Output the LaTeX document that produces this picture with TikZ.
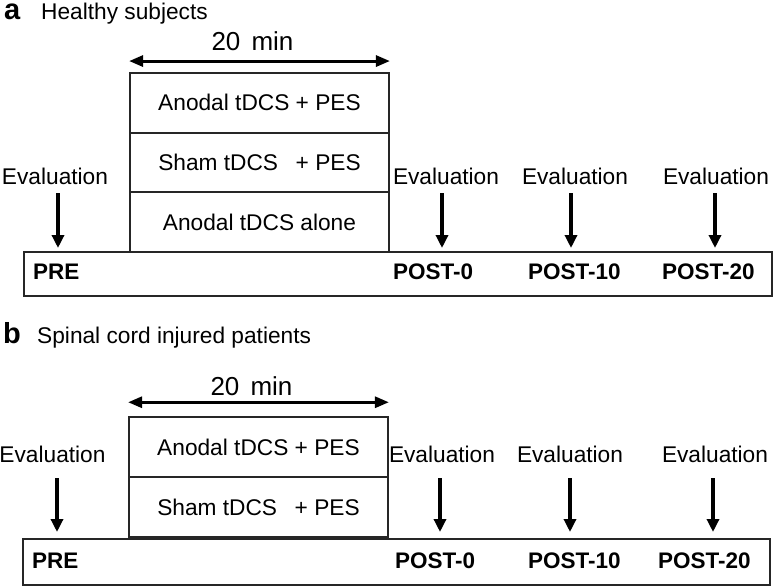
\documentclass[tikz,border=0pt]{standalone}
\usepackage{fontspec}
\setmainfont{Liberation Sans}
\usetikzlibrary{arrows.meta}
\definecolor{linegray}{HTML}{262626}
\begin{document}
\begin{tikzpicture}[x=1pt,y=-1pt,
 txt/.style={inner sep=0pt, font=\fontsize{22.7}{27}\selectfont},
 durtxt/.style={inner sep=0pt, font=\fontsize{26}{30}\selectfont},
 boldtxt/.style={inner sep=0pt, font=\fontsize{22.5}{27}\selectfont\bfseries},
 panel/.style={inner sep=0pt, font=\fontsize{29}{34}\selectfont\bfseries},
 stim/.style={draw=linegray, line width=1.8pt, minimum width=259pt, minimum height=59.7pt, inner sep=0pt, font=\fontsize{22.7}{27}\selectfont},
 timeline/.style={draw=linegray, line width=1.8pt, inner sep=0pt},
 evalarrow/.style={line width=3.5pt, -{Triangle[width=12pt,length=13pt]}},
 durarrow/.style={line width=3pt, {Triangle[width=11pt,length=14pt]}-{Triangle[width=11pt,length=14pt]}}
]
\useasboundingbox (0,0) rectangle (774,586);

% ---------------- panel a ----------------
\node[panel, anchor=base west] (pa) at (4,20) {a};
\node[txt, anchor=base west] (ta) at (41,20) {Healthy subjects};

\node[stim] (a1) at (259.5,102.8) {Anodal tDCS + PES};
\node[stim] (a2) at (259.5,162.5) {Sham tDCS\hspace{0.5em} + PES};
\node[stim] (a3) at (259.5,222.2) {Anodal tDCS alone};
\draw[durarrow] ([yshift=11pt]a1.north west) -- ([yshift=11pt]a1.north east);
\node[durtxt, anchor=base] (da) at (252.5,51) {20\hspace{0.15em} min};

\node[timeline, minimum width=748pt, minimum height=44pt] (tla) at (398,274) {};
\node[boldtxt, anchor=base west] (preA) at (33,279) {PRE};
\node[boldtxt, anchor=base west] (p0A) at (393,279) {POST-0};
\node[boldtxt, anchor=base west] (p10A) at (528,279) {POST-10};
\node[boldtxt, anchor=base west] (p20A) at (662,279) {POST-20};

\node[txt, anchor=base] (ea1) at (55,184) {Evaluation};
\node[txt, anchor=base] (ea2) at (446,184) {Evaluation};
\node[txt, anchor=base] (ea3) at (575,184) {Evaluation};
\node[txt, anchor=base] (ea4) at (716,184) {Evaluation};
\coordinate (ea1s) at (58,193);  \coordinate (ea1e) at (58,248);
\coordinate (ea2s) at (442,193); \coordinate (ea2e) at (442,248);
\coordinate (ea3s) at (571,193); \coordinate (ea3e) at (571,248);
\coordinate (ea4s) at (715,193); \coordinate (ea4e) at (715,248);
\draw[evalarrow] (ea1s) -- (ea1e);
\draw[evalarrow] (ea2s) -- (ea2e);
\draw[evalarrow] (ea3s) -- (ea3e);
\draw[evalarrow] (ea4s) -- (ea4e);

% ---------------- panel b ----------------
\node[panel, anchor=base west] (pb) at (3,343) {b};
\node[txt, anchor=base west] (tb) at (37,343) {Spinal cord injured patients};

\node[stim] (b1) at (258.5,447) {Anodal tDCS + PES};
\node[stim] (b2) at (258.5,507) {Sham tDCS\hspace{0.5em} + PES};
\draw[durarrow] ([yshift=14pt]b1.north west) -- ([yshift=14pt]b1.north east);
\node[durtxt, anchor=base] (db) at (251.5,395) {20\hspace{0.15em} min};

\node[timeline, minimum width=747pt, minimum height=46pt] (tlb) at (396.5,562) {};
\node[boldtxt, anchor=base west] (preB) at (32,568) {PRE};
\node[boldtxt, anchor=base west] (p0B) at (395,568) {POST-0};
\node[boldtxt, anchor=base west] (p10B) at (528,568) {POST-10};
\node[boldtxt, anchor=base west] (p20B) at (658,568) {POST-20};

\node[txt, anchor=base] (eb1) at (52.5,462) {Evaluation};
\node[txt, anchor=base] (eb2) at (442,462) {Evaluation};
\node[txt, anchor=base] (eb3) at (570,462) {Evaluation};
\node[txt, anchor=base] (eb4) at (715,462) {Evaluation};
\coordinate (eb1s) at (57,478);  \coordinate (eb1e) at (57,532);
\coordinate (eb2s) at (440,478); \coordinate (eb2e) at (440,532);
\coordinate (eb3s) at (570,478); \coordinate (eb3e) at (570,532);
\coordinate (eb4s) at (713,478); \coordinate (eb4e) at (713,532);
\draw[evalarrow] (eb1s) -- (eb1e);
\draw[evalarrow] (eb2s) -- (eb2e);
\draw[evalarrow] (eb3s) -- (eb3e);
\draw[evalarrow] (eb4s) -- (eb4e);
\end{tikzpicture}
\end{document}
